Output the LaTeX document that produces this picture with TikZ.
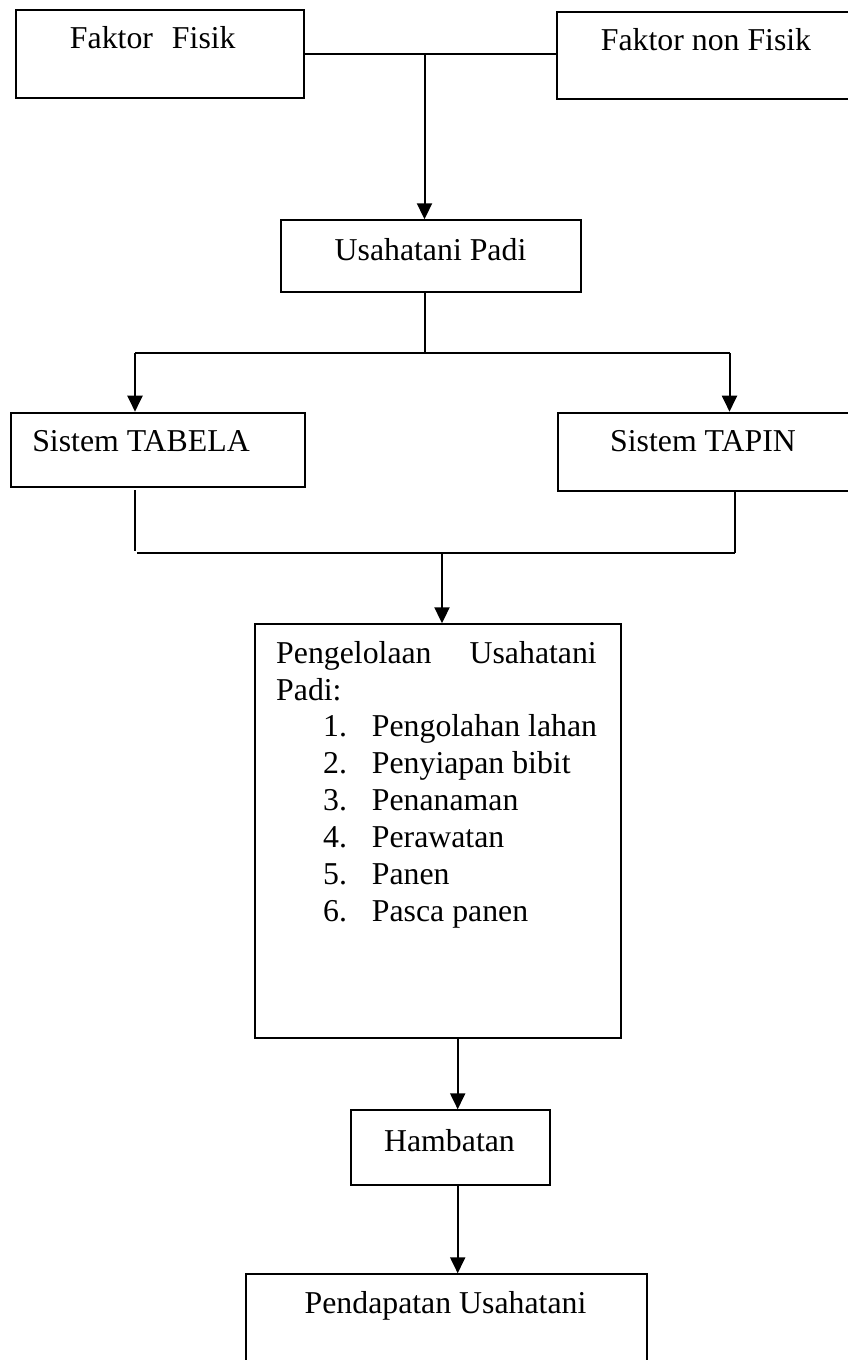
\documentclass[tikz,border=0pt]{standalone}
\usepackage{fontspec}
\setmainfont{Liberation Serif}
\usetikzlibrary{arrows.meta}
\begin{document}
\begin{tikzpicture}[x=1pt,y=-1pt,
  box/.style={draw, line width=2pt, inner sep=0pt, anchor=north west},
  lbl/.style={anchor=base, inner sep=0pt, font=\fontsize{31.8}{36.95}\selectfont},
  lblw/.style={lbl, anchor=base west},
  lble/.style={lbl, anchor=base east},
  conn/.style={line width=2pt},
  arr/.style={conn, -{Triangle[length=16pt,width=15pt]}}]
\useasboundingbox (0,0) rectangle (848,1360);
\clip (0,0) rectangle (848,1360);
% boxes
\node[box, minimum width=288pt, minimum height=88.5pt] (ff) at (15,8.5) {};
\node[box, minimum width=296pt, minimum height=87.3pt] (fnf) at (556,10.7) {};
\node[box, minimum width=300pt, minimum height=71.4pt] (up) at (280,219.3) {};
\node[box, minimum width=294pt, minimum height=74.3pt] (tabela) at (10,411.7) {};
\node[box, minimum width=294pt, minimum height=78.3pt] (tapin) at (556.5,411.7) {};
\node[box, minimum width=365.7pt, minimum height=414pt] (peng) at (254.3,623.3) {};
\node[box, minimum width=199pt, minimum height=74.7pt] (hamb) at (350,1109.3) {};
\node[box, minimum width=401pt, minimum height=95pt] (pend) at (245,1273.3) {};
% texts
\node[lbl] (tff) at (152.8,48.3) {Faktor\hspace{19pt}Fisik};
\node[lbl] (tfnf) at (706,50.7) {Faktor non Fisik};
\node[lbl] (tup) at (430.5,260) {Usahatani Padi};
\node[lbl] (ttab) at (141,451.7) {Sistem TABELA};
\node[lbl] (ttap) at (703,451.7) {Sistem TAPIN};
\node[lblw] (tp1) at (276,663) {Pengelolaan};
\node[lble] (tp2) at (597,663) {Usahatani};
\node[lblw] (tp3) at (276,700) {Padi:};
\foreach \i/\t [count=\k from 0] in {1/Pengolahan lahan,2/Penyiapan bibit,3/Penanaman,4/Perawatan,5/Panen,6/Pasca panen}{
  \node[lblw] (n\i) at (323,{736.7+37*\k}) {\i.};
  \node[lblw] (it\i) at (371.7,{736.7+37*\k}) {\t};
}
\node[lbl] (thamb) at (449.5,1151) {Hambatan};
\node[lbl] (tpend) at (445.5,1313.3) {Pendapatan Usahatani};
% connectors
\coordinate (j1) at (424.5,54);
\draw[conn] (ff.east |- j1) -- (fnf.west |- j1);
\draw[arr] (j1) -- (j1 |- up.north);
\coordinate (j2) at (424.5,353);
\draw[conn] (j1 |- up.south) -- (j2);
\coordinate (jl) at (135,353);
\coordinate (jr) at (729.5,353);
\draw[conn] (jl) -- (jr);
\draw[arr] (jl) -- (jl |- tabela.north);
\draw[arr] (jr) -- (jr |- tapin.north);
\coordinate (klt) at (135,490);
\coordinate (klb) at (135,551);
\coordinate (kl) at (137,553);
\coordinate (kr) at (734.5,553);
\draw[conn] (klt) -- (klb);
\draw[conn] (kl) -- (kr);
\draw[conn] (kr |- tapin.south) -- (kr);
\coordinate (km) at (442,553);
\draw[arr] (km) -- (km |- peng.north);
\coordinate (ka) at (457.7,0);
\draw[arr] (ka |- peng.south) -- (ka |- hamb.north);
\draw[arr] (ka |- hamb.south) -- (ka |- pend.north);
\end{tikzpicture}
\end{document}
